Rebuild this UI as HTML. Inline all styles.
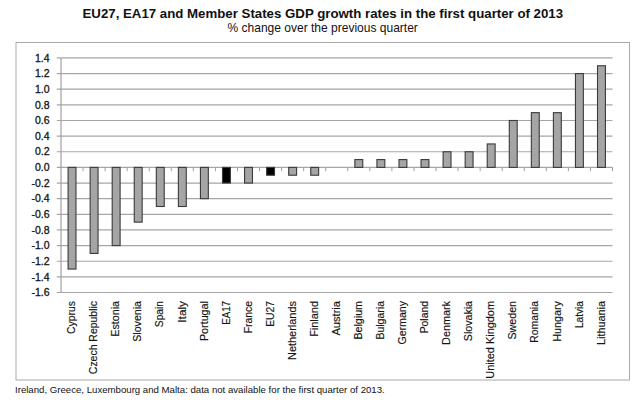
<!DOCTYPE html>
<html><head><meta charset="utf-8"><style>
html,body{margin:0;padding:0;background:#fff;}
body{width:640px;height:406px;position:relative;overflow:hidden;font-family:"Liberation Sans",sans-serif;color:#111;}
svg text{font-family:"Liberation Sans",sans-serif;fill:#141414;stroke:#141414;stroke-width:0.15px;}
.t{position:absolute;white-space:nowrap;}
</style></head><body>
<svg width="640" height="406" viewBox="0 0 640 406" style="position:absolute;left:0;top:0">
<rect x="16" y="42.5" width="613.5" height="337.5" fill="none" stroke="#a9a9a9" stroke-width="1"/>
<line x1="56.8" y1="57.92" x2="612.5" y2="57.92" stroke="#a6a6a6" stroke-width="1.2"/>
<text x="49.5" y="61.62" text-anchor="end" font-size="10.5" style="stroke-width:0.3px">1.4</text>
<line x1="56.8" y1="73.56" x2="612.5" y2="73.56" stroke="#a6a6a6" stroke-width="1.2"/>
<text x="49.5" y="77.26" text-anchor="end" font-size="10.5" style="stroke-width:0.3px">1.2</text>
<line x1="56.8" y1="89.20" x2="612.5" y2="89.20" stroke="#a6a6a6" stroke-width="1.2"/>
<text x="49.5" y="92.90" text-anchor="end" font-size="10.5" style="stroke-width:0.3px">1.0</text>
<line x1="56.8" y1="104.84" x2="612.5" y2="104.84" stroke="#a6a6a6" stroke-width="1.2"/>
<text x="49.5" y="108.54" text-anchor="end" font-size="10.5" style="stroke-width:0.3px">0.8</text>
<line x1="56.8" y1="120.48" x2="612.5" y2="120.48" stroke="#a6a6a6" stroke-width="1.2"/>
<text x="49.5" y="124.18" text-anchor="end" font-size="10.5" style="stroke-width:0.3px">0.6</text>
<line x1="56.8" y1="136.12" x2="612.5" y2="136.12" stroke="#a6a6a6" stroke-width="1.2"/>
<text x="49.5" y="139.82" text-anchor="end" font-size="10.5" style="stroke-width:0.3px">0.4</text>
<line x1="56.8" y1="151.76" x2="612.5" y2="151.76" stroke="#a6a6a6" stroke-width="1.2"/>
<text x="49.5" y="155.46" text-anchor="end" font-size="10.5" style="stroke-width:0.3px">0.2</text>
<line x1="56.8" y1="167.40" x2="612.5" y2="167.40" stroke="#a6a6a6" stroke-width="1.2"/>
<text x="49.5" y="171.10" text-anchor="end" font-size="10.5" style="stroke-width:0.3px">0.0</text>
<line x1="56.8" y1="183.04" x2="612.5" y2="183.04" stroke="#a6a6a6" stroke-width="1.2"/>
<text x="49.5" y="186.74" text-anchor="end" font-size="10.5" style="stroke-width:0.3px">-0.2</text>
<line x1="56.8" y1="198.68" x2="612.5" y2="198.68" stroke="#a6a6a6" stroke-width="1.2"/>
<text x="49.5" y="202.38" text-anchor="end" font-size="10.5" style="stroke-width:0.3px">-0.4</text>
<line x1="56.8" y1="214.32" x2="612.5" y2="214.32" stroke="#a6a6a6" stroke-width="1.2"/>
<text x="49.5" y="218.02" text-anchor="end" font-size="10.5" style="stroke-width:0.3px">-0.6</text>
<line x1="56.8" y1="229.96" x2="612.5" y2="229.96" stroke="#a6a6a6" stroke-width="1.2"/>
<text x="49.5" y="233.66" text-anchor="end" font-size="10.5" style="stroke-width:0.3px">-0.8</text>
<line x1="56.8" y1="245.60" x2="612.5" y2="245.60" stroke="#a6a6a6" stroke-width="1.2"/>
<text x="49.5" y="249.30" text-anchor="end" font-size="10.5" style="stroke-width:0.3px">-1.0</text>
<line x1="56.8" y1="261.24" x2="612.5" y2="261.24" stroke="#a6a6a6" stroke-width="1.2"/>
<text x="49.5" y="264.94" text-anchor="end" font-size="10.5" style="stroke-width:0.3px">-1.2</text>
<line x1="56.8" y1="276.88" x2="612.5" y2="276.88" stroke="#a6a6a6" stroke-width="1.2"/>
<text x="49.5" y="280.58" text-anchor="end" font-size="10.5" style="stroke-width:0.3px">-1.4</text>
<line x1="56.8" y1="292.52" x2="612.5" y2="292.52" stroke="#a6a6a6" stroke-width="1.2"/>
<text x="49.5" y="296.22" text-anchor="end" font-size="10.5" style="stroke-width:0.3px">-1.6</text>
<line x1="61.0" y1="57.92" x2="61.0" y2="292.52" stroke="#a0a0a0" stroke-width="1.2"/>
<line x1="83.06" y1="167.4" x2="83.06" y2="171.20000000000002" stroke="#a0a0a0" stroke-width="1"/>
<line x1="105.12" y1="167.4" x2="105.12" y2="171.20000000000002" stroke="#a0a0a0" stroke-width="1"/>
<line x1="127.18" y1="167.4" x2="127.18" y2="171.20000000000002" stroke="#a0a0a0" stroke-width="1"/>
<line x1="149.24" y1="167.4" x2="149.24" y2="171.20000000000002" stroke="#a0a0a0" stroke-width="1"/>
<line x1="171.30" y1="167.4" x2="171.30" y2="171.20000000000002" stroke="#a0a0a0" stroke-width="1"/>
<line x1="193.36" y1="167.4" x2="193.36" y2="171.20000000000002" stroke="#a0a0a0" stroke-width="1"/>
<line x1="215.42" y1="167.4" x2="215.42" y2="171.20000000000002" stroke="#a0a0a0" stroke-width="1"/>
<line x1="237.48" y1="167.4" x2="237.48" y2="171.20000000000002" stroke="#a0a0a0" stroke-width="1"/>
<line x1="259.54" y1="167.4" x2="259.54" y2="171.20000000000002" stroke="#a0a0a0" stroke-width="1"/>
<line x1="281.60" y1="167.4" x2="281.60" y2="171.20000000000002" stroke="#a0a0a0" stroke-width="1"/>
<line x1="303.66" y1="167.4" x2="303.66" y2="171.20000000000002" stroke="#a0a0a0" stroke-width="1"/>
<line x1="325.72" y1="167.4" x2="325.72" y2="171.20000000000002" stroke="#a0a0a0" stroke-width="1"/>
<line x1="347.78" y1="167.4" x2="347.78" y2="171.20000000000002" stroke="#a0a0a0" stroke-width="1"/>
<line x1="369.84" y1="167.4" x2="369.84" y2="171.20000000000002" stroke="#a0a0a0" stroke-width="1"/>
<line x1="391.90" y1="167.4" x2="391.90" y2="171.20000000000002" stroke="#a0a0a0" stroke-width="1"/>
<line x1="413.96" y1="167.4" x2="413.96" y2="171.20000000000002" stroke="#a0a0a0" stroke-width="1"/>
<line x1="436.02" y1="167.4" x2="436.02" y2="171.20000000000002" stroke="#a0a0a0" stroke-width="1"/>
<line x1="458.08" y1="167.4" x2="458.08" y2="171.20000000000002" stroke="#a0a0a0" stroke-width="1"/>
<line x1="480.14" y1="167.4" x2="480.14" y2="171.20000000000002" stroke="#a0a0a0" stroke-width="1"/>
<line x1="502.20" y1="167.4" x2="502.20" y2="171.20000000000002" stroke="#a0a0a0" stroke-width="1"/>
<line x1="524.26" y1="167.4" x2="524.26" y2="171.20000000000002" stroke="#a0a0a0" stroke-width="1"/>
<line x1="546.32" y1="167.4" x2="546.32" y2="171.20000000000002" stroke="#a0a0a0" stroke-width="1"/>
<line x1="568.38" y1="167.4" x2="568.38" y2="171.20000000000002" stroke="#a0a0a0" stroke-width="1"/>
<line x1="590.44" y1="167.4" x2="590.44" y2="171.20000000000002" stroke="#a0a0a0" stroke-width="1"/>
<line x1="612.50" y1="167.4" x2="612.50" y2="171.20000000000002" stroke="#a0a0a0" stroke-width="1"/>
<rect x="68.08" y="167.40" width="7.9" height="101.66" fill="#a5a5a5" stroke="#3a3a3a" stroke-width="1.1"/>
<rect x="90.14" y="167.40" width="7.9" height="86.02" fill="#a5a5a5" stroke="#3a3a3a" stroke-width="1.1"/>
<rect x="112.20" y="167.40" width="7.9" height="78.20" fill="#a5a5a5" stroke="#3a3a3a" stroke-width="1.1"/>
<rect x="134.26" y="167.40" width="7.9" height="54.74" fill="#a5a5a5" stroke="#3a3a3a" stroke-width="1.1"/>
<rect x="156.32" y="167.40" width="7.9" height="39.10" fill="#a5a5a5" stroke="#3a3a3a" stroke-width="1.1"/>
<rect x="178.38" y="167.40" width="7.9" height="39.10" fill="#a5a5a5" stroke="#3a3a3a" stroke-width="1.1"/>
<rect x="200.44" y="167.40" width="7.9" height="31.28" fill="#a5a5a5" stroke="#3a3a3a" stroke-width="1.1"/>
<rect x="222.50" y="167.40" width="7.9" height="15.64" fill="#000" stroke="#3a3a3a" stroke-width="1.1"/>
<rect x="244.56" y="167.40" width="7.9" height="15.64" fill="#a5a5a5" stroke="#3a3a3a" stroke-width="1.1"/>
<rect x="266.62" y="167.40" width="7.9" height="7.82" fill="#000" stroke="#3a3a3a" stroke-width="1.1"/>
<rect x="288.68" y="167.40" width="7.9" height="7.82" fill="#a5a5a5" stroke="#3a3a3a" stroke-width="1.1"/>
<rect x="310.74" y="167.40" width="7.9" height="7.82" fill="#a5a5a5" stroke="#3a3a3a" stroke-width="1.1"/>
<rect x="354.86" y="159.58" width="7.9" height="7.82" fill="#a5a5a5" stroke="#3a3a3a" stroke-width="1.1"/>
<rect x="376.92" y="159.58" width="7.9" height="7.82" fill="#a5a5a5" stroke="#3a3a3a" stroke-width="1.1"/>
<rect x="398.98" y="159.58" width="7.9" height="7.82" fill="#a5a5a5" stroke="#3a3a3a" stroke-width="1.1"/>
<rect x="421.04" y="159.58" width="7.9" height="7.82" fill="#a5a5a5" stroke="#3a3a3a" stroke-width="1.1"/>
<rect x="443.10" y="151.76" width="7.9" height="15.64" fill="#a5a5a5" stroke="#3a3a3a" stroke-width="1.1"/>
<rect x="465.16" y="151.76" width="7.9" height="15.64" fill="#a5a5a5" stroke="#3a3a3a" stroke-width="1.1"/>
<rect x="487.22" y="143.94" width="7.9" height="23.46" fill="#a5a5a5" stroke="#3a3a3a" stroke-width="1.1"/>
<rect x="509.28" y="120.48" width="7.9" height="46.92" fill="#a5a5a5" stroke="#3a3a3a" stroke-width="1.1"/>
<rect x="531.34" y="112.66" width="7.9" height="54.74" fill="#a5a5a5" stroke="#3a3a3a" stroke-width="1.1"/>
<rect x="553.40" y="112.66" width="7.9" height="54.74" fill="#a5a5a5" stroke="#3a3a3a" stroke-width="1.1"/>
<rect x="575.46" y="73.56" width="7.9" height="93.84" fill="#a5a5a5" stroke="#3a3a3a" stroke-width="1.1"/>
<rect x="597.52" y="65.74" width="7.9" height="101.66" fill="#a5a5a5" stroke="#3a3a3a" stroke-width="1.1"/>
<text transform="translate(75.23,301.0) rotate(-90) scale(0.989,1)" text-anchor="end" font-size="10.5">Cyprus</text>
<text transform="translate(97.29,301.0) rotate(-90) scale(0.995,1)" text-anchor="end" font-size="10.5">Czech Republic</text>
<text transform="translate(119.35,301.0) rotate(-90) scale(1.022,1)" text-anchor="end" font-size="10.5">Estonia</text>
<text transform="translate(141.41,301.0) rotate(-90) scale(1.013,1)" text-anchor="end" font-size="10.5">Slovenia</text>
<text transform="translate(163.47,301.0) rotate(-90) scale(0.976,1)" text-anchor="end" font-size="10.5">Spain</text>
<text transform="translate(185.53,301.0) rotate(-90) scale(1.127,1)" text-anchor="end" font-size="10.5">Italy</text>
<text transform="translate(207.59,301.0) rotate(-90) scale(1.028,1)" text-anchor="end" font-size="10.5">Portugal</text>
<text transform="translate(229.65,301.0) rotate(-90) scale(0.930,1)" text-anchor="end" font-size="10.5">EA17</text>
<text transform="translate(251.71,301.0) rotate(-90) scale(0.991,1)" text-anchor="end" font-size="10.5">France</text>
<text transform="translate(273.77,301.0) rotate(-90) scale(0.986,1)" text-anchor="end" font-size="10.5">EU27</text>
<text transform="translate(295.83,301.0) rotate(-90) scale(1.044,1)" text-anchor="end" font-size="10.5">Netherlands</text>
<text transform="translate(317.89,301.0) rotate(-90) scale(1.040,1)" text-anchor="end" font-size="10.5">Finland</text>
<text transform="translate(339.95,301.0) rotate(-90) scale(1.059,1)" text-anchor="end" font-size="10.5">Austria</text>
<text transform="translate(362.01,301.0) rotate(-90) scale(1.018,1)" text-anchor="end" font-size="10.5">Belgium</text>
<text transform="translate(384.07,301.0) rotate(-90) scale(1.002,1)" text-anchor="end" font-size="10.5">Bulgaria</text>
<text transform="translate(406.13,301.0) rotate(-90) scale(1.010,1)" text-anchor="end" font-size="10.5">Germany</text>
<text transform="translate(428.19,301.0) rotate(-90) scale(0.991,1)" text-anchor="end" font-size="10.5">Poland</text>
<text transform="translate(450.25,301.0) rotate(-90) scale(1.032,1)" text-anchor="end" font-size="10.5">Denmark</text>
<text transform="translate(472.31,301.0) rotate(-90) scale(1.013,1)" text-anchor="end" font-size="10.5">Slovakia</text>
<text transform="translate(494.37,301.0) rotate(-90) scale(1.040,1)" text-anchor="end" font-size="10.5">United Kingdom</text>
<text transform="translate(516.43,301.0) rotate(-90) scale(1.017,1)" text-anchor="end" font-size="10.5">Sweden</text>
<text transform="translate(538.49,301.0) rotate(-90) scale(0.995,1)" text-anchor="end" font-size="10.5">Romania</text>
<text transform="translate(560.55,301.0) rotate(-90) scale(1.028,1)" text-anchor="end" font-size="10.5">Hungary</text>
<text transform="translate(582.61,301.0) rotate(-90) scale(0.967,1)" text-anchor="end" font-size="10.5">Latvia</text>
<text transform="translate(604.67,301.0) rotate(-90) scale(1.031,1)" text-anchor="end" font-size="10.5">Lithuania</text>
</svg>
<div class="t" style="left:82.5px;top:6px;font-size:13.25px;font-weight:bold;line-height:16px;">EU27, EA17 and Member States GDP growth rates in the first quarter of 2013</div>
<div class="t" style="left:227.5px;top:21.2px;font-size:12.03px;line-height:14px;">% change over the previous quarter</div>
<div class="t" style="left:15px;top:383.5px;font-size:9.63px;line-height:12px;">Ireland, Greece, Luxembourg and Malta: data not available for the first quarter of 2013.</div>
</body></html>
